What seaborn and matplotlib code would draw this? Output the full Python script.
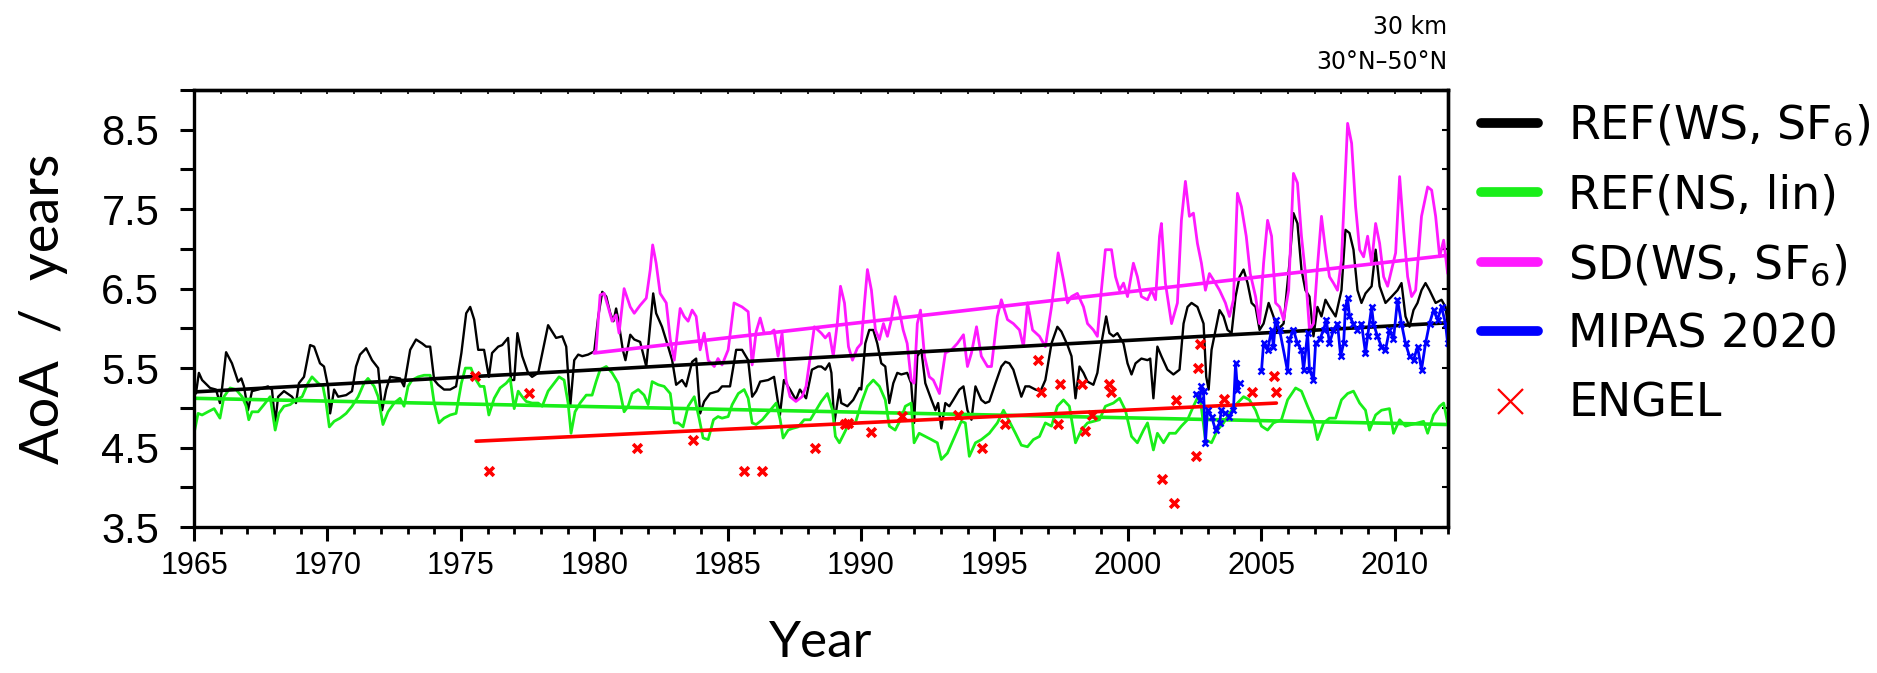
import numpy as np
import pandas as pd
import matplotlib
matplotlib.use("Agg")
import matplotlib.pyplot as plt
from matplotlib.lines import Line2D
from matplotlib.ticker import MultipleLocator
import seaborn as sns

sns.set_style("ticks")
plt.rcParams['font.family'] = ['DejaVu Sans']
plt.rcParams.update({'text.color': 'black', 'axes.labelcolor': 'black', 'axes.edgecolor': 'black',
                     'xtick.color': 'black', 'ytick.color': 'black'})

# REF(WS, SF6) model run
ref_ws_years = [1965.07, 1965.18, 1965.30, 1965.60, 1965.82, 1965.97, 1966.05, 1966.20, 1966.42, 1966.65,
                1966.77, 1966.87, 1967.02, 1967.17, 1967.40, 1967.77, 1967.92, 1968.04, 1968.15, 1968.37,
                1968.67, 1968.82, 1968.93, 1969.12, 1969.35, 1969.50, 1969.72, 1969.87, 1970.02, 1970.10,
                1970.25, 1970.40, 1970.70, 1970.92, 1971.07, 1971.22, 1971.45, 1971.67, 1971.90, 1972.05,
                1972.20, 1972.35, 1972.72, 1972.87, 1973.10, 1973.32, 1973.55, 1973.70, 1973.85, 1974.00,
                1974.15, 1974.37, 1974.60, 1974.82, 1975.02, 1975.20, 1975.35, 1975.50, 1975.65, 1975.87,
                1976.05, 1976.17, 1976.40, 1976.55, 1976.77, 1976.88, 1977.00, 1977.12, 1977.30, 1977.52,
                1977.67, 1977.90, 1978.27, 1978.42, 1978.57, 1978.80, 1978.95, 1979.10, 1979.25, 1979.40,
                1979.55, 1979.77, 1980.00, 1980.15, 1980.30, 1980.45, 1980.60, 1980.72, 1980.82, 1980.90,
                1981.07, 1981.17, 1981.35, 1981.50, 1981.72, 1981.95, 1982.21, 1982.32, 1982.54, 1982.77,
                1982.92, 1983.07, 1983.29, 1983.44, 1983.67, 1983.82, 1983.97, 1984.12, 1984.34, 1984.64,
                1984.79, 1985.09, 1985.32, 1985.54, 1985.77, 1985.92, 1986.07, 1986.22, 1986.52, 1986.74,
                1986.96, 1987.11, 1987.34, 1987.56, 1987.71, 1987.94, 1988.16, 1988.39, 1988.51, 1988.66,
                1988.81, 1988.89, 1989.00, 1989.19, 1989.26, 1989.49, 1989.71, 1989.94, 1990.01, 1990.16,
                1990.31, 1990.46, 1990.61, 1990.76, 1990.91, 1991.06, 1991.21, 1991.36, 1991.51, 1991.73,
                1991.88, 1991.99, 1992.11, 1992.26, 1992.41, 1992.64, 1992.79, 1992.89, 1993.01, 1993.16,
                1993.31, 1993.46, 1993.69, 1993.84, 1993.99, 1994.14, 1994.29, 1994.51, 1994.66, 1994.81,
                1995.04, 1995.26, 1995.41, 1995.56, 1995.71, 1995.86, 1996.01, 1996.16, 1996.31, 1996.54,
                1996.73, 1996.91, 1997.14, 1997.36, 1997.51, 1997.74, 1997.89, 1998.04, 1998.19, 1998.34,
                1998.49, 1998.71, 1998.86, 1999.01, 1999.19, 1999.31, 1999.46, 1999.61, 1999.84, 1999.99,
                2000.14, 2000.29, 2000.51, 2000.74, 2000.84, 2000.96, 2001.11, 2001.26, 2001.49, 2001.71,
                2001.94, 2002.09, 2002.24, 2002.39, 2002.61, 2002.84, 2002.94, 2003.03, 2003.14, 2003.29,
                2003.44, 2003.59, 2003.74, 2003.89, 2004.04, 2004.19, 2004.34, 2004.49, 2004.64, 2004.79,
                2004.94, 2005.09, 2005.28, 2005.46, 2005.61, 2005.84, 2006.06, 2006.21, 2006.36, 2006.51,
                2006.66, 2006.81, 2006.96, 2007.11, 2007.26, 2007.41, 2007.56, 2007.79, 2008.01, 2008.16,
                2008.31, 2008.46, 2008.61, 2008.76, 2008.91, 2009.14, 2009.29, 2009.44, 2009.66, 2009.89,
                2010.11, 2010.26, 2010.41, 2010.56, 2010.71, 2010.86, 2011.01, 2011.16, 2011.31, 2011.54,
                2011.76, 2011.91, 2011.99]
ref_ws_aoa = [5.18, 5.44, 5.35, 5.25, 5.23, 5.06, 5.25, 5.70, 5.56, 5.33,
              5.37, 5.27, 4.97, 5.21, 5.23, 5.27, 5.23, 4.81, 5.14, 5.21,
              5.14, 5.06, 5.31, 5.39, 5.79, 5.77, 5.56, 5.52, 5.27, 4.93,
              5.23, 5.14, 5.16, 5.21, 5.52, 5.67, 5.75, 5.60, 5.50, 4.97,
              5.23, 5.39, 5.37, 5.27, 5.73, 5.86, 5.81, 5.77, 5.77, 5.35,
              5.29, 5.23, 5.23, 5.27, 5.69, 6.19, 6.27, 6.11, 5.73, 5.73,
              5.39, 5.69, 5.77, 5.79, 5.88, 5.35, 5.35, 5.94, 5.65, 5.44,
              5.39, 5.44, 6.04, 5.96, 5.88, 5.90, 5.77, 5.02, 5.60, 5.67,
              5.65, 5.67, 5.71, 6.15, 6.46, 6.40, 6.19, 6.09, 6.25, 6.11,
              5.73, 5.60, 5.92, 5.86, 5.83, 5.52, 6.44, 6.19, 6.02, 5.77,
              5.60, 5.29, 5.35, 5.27, 5.58, 5.62, 4.93, 5.08, 5.18, 5.21,
              5.27, 5.27, 5.73, 5.73, 5.60, 5.14, 5.21, 5.33, 5.35, 5.39,
              4.91, 5.35, 5.23, 5.10, 5.23, 5.12, 5.48, 5.52, 5.52, 5.48,
              5.56, 5.44, 4.81, 5.23, 5.06, 5.02, 5.10, 5.25, 5.23, 5.81,
              5.98, 5.98, 5.81, 5.56, 5.52, 5.06, 5.31, 5.44, 5.42, 5.44,
              5.31, 4.81, 5.65, 5.73, 5.31, 5.10, 4.97, 5.06, 4.74, 5.06,
              5.02, 5.10, 5.23, 5.27, 4.97, 4.85, 5.27, 5.10, 5.06, 5.08,
              5.31, 5.52, 5.58, 5.56, 5.48, 5.31, 5.14, 5.27, 5.27, 5.23,
              5.21, 5.35, 5.81, 6.02, 5.96, 5.79, 5.65, 5.12, 5.52, 5.44,
              5.33, 5.29, 5.44, 5.81, 6.15, 5.94, 5.90, 5.94, 5.81, 5.56,
              5.42, 5.56, 5.62, 5.60, 5.62, 5.12, 5.77, 5.65, 5.48, 5.42,
              5.48, 6.06, 6.27, 6.32, 6.27, 6.06, 5.39, 5.23, 5.73, 5.98,
              6.23, 6.15, 5.98, 5.94, 6.40, 6.65, 6.74, 6.57, 6.32, 6.27,
              5.98, 6.06, 6.32, 6.15, 5.98, 6.06, 6.82, 7.45, 7.32, 6.74,
              6.48, 6.40, 5.90, 6.27, 6.15, 6.36, 6.27, 6.15, 6.48, 7.24,
              7.20, 6.99, 6.48, 6.32, 6.44, 6.53, 6.99, 6.53, 6.32, 6.40,
              6.48, 6.57, 6.15, 6.02, 6.23, 6.32, 6.48, 6.57, 6.48, 6.32,
              6.36, 6.27, 6.06]

# REF(NS, lin) model run
ref_ns_years = [1965.00, 1965.15, 1965.30, 1965.52, 1965.75, 1965.97, 1966.12, 1966.35, 1966.57, 1966.80,
                1966.95, 1967.05, 1967.17, 1967.40, 1967.62, 1967.85, 1968.04, 1968.18, 1968.37, 1968.60,
                1968.82, 1969.05, 1969.27, 1969.42, 1969.65, 1969.83, 1969.95, 1970.07, 1970.25, 1970.47,
                1970.70, 1970.92, 1971.15, 1971.37, 1971.52, 1971.75, 1971.90, 1972.08, 1972.27, 1972.50,
                1972.72, 1972.87, 1973.02, 1973.17, 1973.40, 1973.62, 1973.85, 1974.00, 1974.18, 1974.37,
                1974.60, 1974.82, 1975.02, 1975.17, 1975.38, 1975.50, 1975.72, 1975.87, 1976.05, 1976.25,
                1976.47, 1976.70, 1976.85, 1977.00, 1977.15, 1977.30, 1977.45, 1977.67, 1977.90, 1978.05,
                1978.27, 1978.50, 1978.68, 1978.87, 1979.02, 1979.13, 1979.28, 1979.47, 1979.70, 1979.92,
                1980.07, 1980.22, 1980.45, 1980.67, 1980.90, 1981.12, 1981.27, 1981.42, 1981.65, 1981.87,
                1982.02, 1982.17, 1982.40, 1982.62, 1982.85, 1983.00, 1983.15, 1983.33, 1983.52, 1983.75,
                1983.93, 1984.08, 1984.27, 1984.47, 1984.64, 1984.79, 1985.02, 1985.17, 1985.40, 1985.62,
                1985.77, 1985.92, 1986.07, 1986.30, 1986.60, 1986.82, 1986.97, 1987.08, 1987.27, 1987.42,
                1987.64, 1987.87, 1988.10, 1988.28, 1988.51, 1988.74, 1988.93, 1989.04, 1989.19, 1989.34,
                1989.56, 1989.79, 1990.01, 1990.24, 1990.46, 1990.69, 1990.91, 1991.06, 1991.28, 1991.51,
                1991.66, 1991.88, 1991.99, 1992.18, 1992.41, 1992.64, 1992.86, 1993.01, 1993.24, 1993.46,
                1993.76, 1993.91, 1994.06, 1994.29, 1994.51, 1994.81, 1995.11, 1995.34, 1995.56, 1995.79,
                1996.01, 1996.24, 1996.46, 1996.69, 1996.91, 1997.14, 1997.36, 1997.59, 1997.81, 1998.04,
                1998.26, 1998.49, 1998.71, 1998.94, 1999.16, 1999.46, 1999.69, 1999.91, 2000.14, 2000.36,
                2000.59, 2000.74, 2000.96, 2001.11, 2001.34, 2001.56, 2001.79, 2002.01, 2002.24, 2002.46,
                2002.69, 2002.91, 2003.14, 2003.36, 2003.59, 2003.81, 2004.11, 2004.34, 2004.56, 2004.79,
                2005.01, 2005.24, 2005.46, 2005.76, 2005.99, 2006.29, 2006.51, 2006.74, 2006.96, 2007.11,
                2007.34, 2007.56, 2007.79, 2008.01, 2008.24, 2008.46, 2008.69, 2008.91, 2009.06, 2009.29,
                2009.51, 2009.81, 2009.96, 2010.19, 2010.41, 2010.64, 2010.86, 2011.09, 2011.24, 2011.46,
                2011.69, 2011.84, 2011.99]
ref_ns_aoa = [4.68, 4.93, 4.91, 4.95, 4.99, 4.87, 5.14, 5.25, 5.23, 5.14,
              5.02, 4.85, 4.95, 4.95, 5.04, 5.14, 4.72, 4.93, 5.02, 5.04,
              5.10, 5.14, 5.31, 5.39, 5.31, 5.27, 5.06, 4.76, 4.83, 4.87,
              4.93, 5.02, 5.14, 5.31, 5.37, 5.27, 5.14, 4.79, 4.95, 5.06,
              5.12, 5.02, 5.27, 5.35, 5.39, 5.41, 5.41, 5.06, 4.81, 4.87,
              4.91, 4.93, 5.31, 5.50, 5.50, 5.39, 5.27, 5.27, 4.91, 5.12,
              5.25, 5.31, 5.37, 4.99, 5.21, 5.14, 5.08, 5.06, 5.06, 5.02,
              5.21, 5.31, 5.39, 5.35, 5.06, 4.68, 4.95, 5.06, 5.16, 5.16,
              5.33, 5.48, 5.52, 5.44, 5.31, 4.95, 5.02, 5.18, 5.23, 5.16,
              5.04, 5.33, 5.29, 5.27, 5.18, 4.81, 4.81, 4.76, 5.02, 5.14,
              4.87, 4.62, 4.60, 4.85, 4.89, 4.87, 4.89, 5.04, 5.18, 5.23,
              5.12, 4.81, 4.79, 4.85, 4.97, 5.06, 4.85, 4.62, 4.72, 4.74,
              4.76, 4.85, 4.85, 4.95, 5.08, 5.18, 4.97, 4.64, 4.56, 4.66,
              4.81, 4.81, 5.06, 5.27, 5.35, 5.27, 5.10, 4.77, 4.72, 4.87,
              5.02, 5.06, 4.56, 4.68, 4.64, 4.60, 4.56, 4.35, 4.43, 4.60,
              4.83, 4.81, 4.39, 4.56, 4.60, 4.68, 4.81, 4.97, 4.83, 4.68,
              4.53, 4.51, 4.60, 4.64, 4.81, 4.77, 5.02, 5.10, 5.02, 4.56,
              4.72, 4.81, 4.83, 4.85, 5.02, 5.06, 5.12, 4.97, 4.64, 4.56,
              4.72, 4.81, 4.47, 4.68, 4.56, 4.68, 4.68, 4.77, 4.85, 5.02,
              5.18, 4.60, 4.56, 4.72, 4.81, 4.93, 5.06, 5.14, 5.10, 4.97,
              4.77, 4.72, 4.81, 4.85, 5.10, 5.25, 5.21, 5.02, 4.85, 4.60,
              4.81, 4.87, 4.87, 5.10, 5.18, 5.21, 5.06, 4.97, 4.72, 4.91,
              4.97, 4.99, 4.68, 4.85, 4.77, 4.79, 4.81, 4.83, 4.68, 4.91,
              5.02, 5.06, 4.81]

# SD(WS, SF6) specified dynamics run
sd_years = [1980.00, 1980.07, 1980.22, 1980.37, 1980.52, 1980.67, 1980.82, 1980.93, 1981.12, 1981.35,
            1981.50, 1981.72, 1981.95, 1982.10, 1982.19, 1982.32, 1982.47, 1982.70, 1982.85, 1983.00,
            1983.22, 1983.37, 1983.52, 1983.67, 1983.82, 1983.97, 1984.12, 1984.27, 1984.50, 1984.64,
            1984.79, 1985.02, 1985.24, 1985.54, 1985.77, 1985.92, 1986.07, 1986.22, 1986.37, 1986.60,
            1986.74, 1986.89, 1987.04, 1987.19, 1987.34, 1987.56, 1987.79, 1987.94, 1988.10, 1988.25,
            1988.51, 1988.66, 1988.81, 1988.96, 1989.11, 1989.23, 1989.38, 1989.53, 1989.68, 1989.86,
            1990.01, 1990.13, 1990.24, 1990.39, 1990.54, 1990.69, 1990.84, 1990.99, 1991.14, 1991.28,
            1991.43, 1991.58, 1991.73, 1991.88, 1991.99, 1992.11, 1992.23, 1992.38, 1992.56, 1992.71,
            1992.94, 1993.16, 1993.39, 1993.61, 1993.84, 1993.99, 1994.14, 1994.33, 1994.51, 1994.74,
            1994.89, 1995.11, 1995.26, 1995.49, 1995.71, 1995.94, 1996.09, 1996.24, 1996.43, 1996.69,
            1996.91, 1997.14, 1997.39, 1997.59, 1997.74, 1997.89, 1998.11, 1998.34, 1998.49, 1998.71,
            1998.86, 1999.01, 1999.16, 1999.39, 1999.54, 1999.69, 1999.84, 1999.99, 2000.21, 2000.36,
            2000.51, 2000.74, 2000.89, 2001.04, 2001.19, 2001.26, 2001.41, 2001.64, 2001.86, 2002.01,
            2002.16, 2002.31, 2002.46, 2002.61, 2002.76, 2002.91, 2003.06, 2003.21, 2003.44, 2003.66,
            2003.81, 2003.96, 2004.11, 2004.26, 2004.44, 2004.59, 2004.79, 2004.94, 2005.09, 2005.24,
            2005.39, 2005.54, 2005.69, 2005.84, 2006.03, 2006.21, 2006.36, 2006.51, 2006.66, 2006.81,
            2006.96, 2007.11, 2007.26, 2007.41, 2007.56, 2007.71, 2007.86, 2008.01, 2008.24, 2008.39,
            2008.54, 2008.69, 2008.84, 2008.99, 2009.14, 2009.29, 2009.44, 2009.59, 2009.74, 2009.89,
            2010.04, 2010.19, 2010.34, 2010.49, 2010.64, 2010.79, 2011.01, 2011.24, 2011.39, 2011.54,
            2011.69, 2011.84, 2011.99]
sd_aoa = [5.69, 5.73, 6.42, 6.44, 6.27, 6.09, 6.17, 5.94, 6.50, 6.27,
          6.19, 6.29, 6.38, 6.74, 7.05, 6.82, 6.44, 6.32, 5.86, 5.60,
          6.25, 6.15, 6.09, 6.23, 6.15, 5.73, 5.94, 5.60, 5.52, 5.62,
          5.54, 5.73, 6.32, 6.27, 6.21, 5.54, 5.96, 6.13, 5.94, 5.94,
          5.98, 5.65, 5.94, 5.35, 5.14, 5.08, 5.14, 5.27, 5.65, 6.02,
          5.94, 5.88, 5.94, 5.65, 6.06, 6.53, 6.32, 5.77, 5.60, 5.75,
          5.81, 6.32, 6.74, 6.48, 5.98, 5.86, 6.06, 5.90, 6.11, 6.40,
          6.23, 5.98, 5.81, 5.35, 5.31, 6.06, 6.23, 5.65, 5.39, 5.35,
          5.18, 5.69, 5.73, 5.81, 5.92, 5.52, 5.69, 6.02, 5.65, 5.52,
          5.52, 6.15, 6.36, 6.11, 6.06, 5.98, 5.77, 6.32, 5.98, 5.90,
          5.77, 6.27, 6.95, 6.61, 6.32, 6.40, 6.44, 6.27, 6.06, 5.98,
          5.90, 6.48, 6.99, 6.99, 6.65, 6.48, 6.57, 6.40, 6.82, 6.65,
          6.40, 6.36, 6.48, 6.36, 7.16, 7.32, 6.57, 6.06, 6.32, 7.36,
          7.85, 7.41, 7.45, 7.07, 6.82, 6.48, 6.69, 6.61, 6.48, 6.32,
          6.15, 6.36, 7.70, 7.53, 7.16, 6.69, 6.40, 6.06, 6.82, 7.36,
          7.16, 6.32, 6.27, 6.11, 6.48, 7.95, 7.83, 7.16, 6.69, 5.98,
          6.06, 6.78, 7.41, 6.99, 6.65, 6.57, 6.48, 6.86, 8.58, 8.33,
          7.53, 6.99, 6.90, 7.16, 6.82, 7.32, 7.07, 6.65, 6.53, 6.74,
          6.95, 7.91, 7.24, 6.65, 6.40, 6.48, 7.41, 7.78, 7.74, 7.41,
          6.90, 7.11, 6.69]

# MIPAS 2020 retrieval (gap between 2004 and 2005)
mipas_years = [2002.54, 2002.69, 2002.76, 2002.84, 2002.91, 2002.99, 2003.14, 2003.29, 2003.44, 2003.51,
               2003.66, 2003.81, 2003.96, 2004.04, 2004.11, 2004.19,
               2005.01, 2005.09, 2005.24, 2005.39, 2005.46, 2005.54, 2005.69, 2005.99, 2006.06, 2006.21,
               2006.36, 2006.51, 2006.59, 2006.74, 2006.81, 2006.96, 2007.04, 2007.19, 2007.34, 2007.44,
               2007.56, 2007.71, 2007.86, 2007.98, 2008.09, 2008.16, 2008.24, 2008.31, 2008.46, 2008.61,
               2008.76, 2008.91, 2008.99, 2009.14, 2009.21, 2009.36, 2009.51, 2009.66, 2009.81, 2009.96,
               2010.11, 2010.26, 2010.41, 2010.56, 2010.71, 2010.86, 2011.01, 2011.16, 2011.31, 2011.46,
               2011.61, 2011.76, 2011.91, 2011.99]
mipas_aoa = [5.18, 5.10, 5.27, 5.21, 4.56, 4.97, 4.89, 4.72, 4.81, 4.97,
             4.93, 4.89, 4.97, 5.56, 5.23, 5.31,
             5.46, 5.81, 5.73, 5.98, 5.77, 6.11, 5.98, 5.46, 5.86, 5.98,
             5.81, 5.73, 5.48, 5.94, 5.48, 5.35, 5.81, 5.86, 5.98, 6.11,
             5.81, 5.98, 6.06, 5.65, 5.81, 6.27, 6.38, 6.15, 6.06, 5.98,
             6.06, 5.69, 5.90, 6.27, 6.06, 5.90, 5.77, 5.73, 5.98, 5.86,
             6.36, 6.06, 5.81, 5.65, 5.60, 5.77, 5.48, 5.81, 6.06, 6.23,
             6.11, 6.27, 6.06, 5.81]

# ENGEL balloon observations
engel_years = [1975.54, 1976.05, 1977.55, 1981.61, 1983.71, 1985.63, 1986.27, 1988.28, 1989.40, 1989.53,
               1990.38, 1991.55, 1993.65, 1994.55, 1995.38, 1996.64, 1996.73, 1997.39, 1997.46, 1998.29,
               1998.38, 1998.64, 1999.29, 1999.38, 2001.30, 2001.72, 2001.81, 2002.54, 2002.63, 2002.71,
               2003.62, 2004.64, 2005.47, 2005.56]
engel_aoa = [5.40, 4.20, 5.19, 4.50, 4.60, 4.20, 4.20, 4.50, 4.80, 4.81,
             4.70, 4.90, 4.91, 4.50, 4.80, 5.60, 5.20, 4.80, 5.30, 5.30,
             4.71, 4.91, 5.30, 5.20, 4.11, 3.80, 5.10, 4.40, 5.50, 5.80,
             5.11, 5.20, 5.40, 5.20]

# linear trends (start / end)
ref_ws_trend_years = [1965.0, 2012.0]
ref_ws_trend_aoa = [5.20, 6.07]
ref_ns_trend_years = [1965.0, 2012.0]
ref_ns_trend_aoa = [5.12, 4.79]
sd_trend_years = [1980.0, 2012.0]
sd_trend_aoa = [5.69, 6.92]
engel_trend_years = [1975.57, 2005.57]
engel_trend_aoa = [4.58, 5.06]

GREEN = '#19ee19'
MAGENTA = '#ff19ff'

fig = plt.figure(figsize=(18.77, 6.73), dpi=100)
ax = fig.add_axes([0.1034, 0.2169, 0.668, 0.6494])

sns.lineplot(x=ref_ws_years, y=ref_ws_aoa, ax=ax, color='black', lw=1.7, estimator=None, sort=False)
sns.lineplot(x=ref_ns_years, y=ref_ns_aoa, ax=ax, color=GREEN, lw=2.0, estimator=None, sort=False)
sns.lineplot(x=sd_years, y=sd_aoa, ax=ax, color=MAGENTA, lw=2.0, estimator=None, sort=False)

for ty, tv, c in [(ref_ws_trend_years, ref_ws_trend_aoa, 'black'),
                  (ref_ns_trend_years, ref_ns_trend_aoa, GREEN),
                  (sd_trend_years, sd_trend_aoa, MAGENTA),
                  (engel_trend_years, engel_trend_aoa, 'red')]:
    sns.lineplot(x=ty, y=tv, ax=ax, color=c, lw=2.6, estimator=None, sort=False)

mipas = pd.DataFrame({'year': mipas_years, 'aoa': mipas_aoa})
mipas['segment'] = (mipas['year'].diff() > 0.5).cumsum()
sns.lineplot(data=mipas, x='year', y='aoa', units='segment', estimator=None, sort=False,
             ax=ax, color='blue', lw=2.0, marker='x', markersize=5, markeredgewidth=1.8,
             markeredgecolor='blue')

sns.scatterplot(x=engel_years, y=engel_aoa, ax=ax, color='red', marker='x', s=40,
                linewidth=2.6, zorder=5)

ax.set_xlim(1965, 2012)
ax.set_ylim(3.5, 9.0)
ax.set_xticks(np.arange(1965, 2011, 5))
ax.xaxis.set_minor_locator(MultipleLocator(1))
ax.set_yticks(np.arange(3.5, 8.6, 1.0))
ax.yaxis.set_minor_locator(MultipleLocator(1.0))
ax.set_yticklabels([f'{v:.1f}' for v in np.arange(3.5, 8.6, 1.0)])

for s in ax.spines.values():
    s.set_linewidth(2.4)
    s.set_visible(True)
ax.tick_params(axis='x', which='major', length=10, width=2.2, direction='out', pad=7, labelsize=22)
ax.tick_params(axis='x', which='minor', length=5, width=2.0, direction='out')
ax.tick_params(axis='y', which='both', length=10, width=2.2, direction='out', pad=15, labelsize=30)
for lab in ax.get_xticklabels() + ax.get_yticklabels():
    lab.set_family('Liberation Sans')

top = ax.secondary_xaxis('top')
top.set_xticks(np.arange(1965, 2013, 1))
top.tick_params(direction='in', length=3, width=1.2, labeltop=False)
top.spines['top'].set_linewidth(2.4)
right = ax.secondary_yaxis('right')
right.set_yticks(np.arange(3.5, 9.01, 0.5))
right.tick_params(direction='in', length=4, width=1.5, labelright=False)
right.spines['right'].set_linewidth(2.4)

ax.set_xlabel('Year', fontsize=37, family='Lato', color='black', labelpad=28)
ax.set_ylabel('AoA  /  years', fontsize=39, family='Lato', color='black', labelpad=24)

fig.text(0.771, 0.960, '30 km', ha='right', va='center', fontsize=17, color='black')
fig.text(0.771, 0.908, '30°N–50°N', ha='right', va='center', fontsize=17, color='black')

handles = [Line2D([], [], color='black', lw=7),
           Line2D([], [], color=GREEN, lw=7),
           Line2D([], [], color=MAGENTA, lw=7),
           Line2D([], [], color='blue', lw=7),
           Line2D([], [], color='red', lw=0, marker='x', markersize=18, markeredgewidth=1.6)]
labels = ['REF(WS, SF$_6$)', 'REF(NS, lin)', 'SD(WS, SF$_6$)', 'MIPAS 2020', 'ENGEL']
fig.legend(handles, labels, loc='upper left', bbox_to_anchor=(0.789, 0.847),
           frameon=False, fontsize=33, handlelength=1.25, handletextpad=0.65,
           labelspacing=0.53, borderpad=0, borderaxespad=0)

fig.savefig('out.png', dpi=100)
